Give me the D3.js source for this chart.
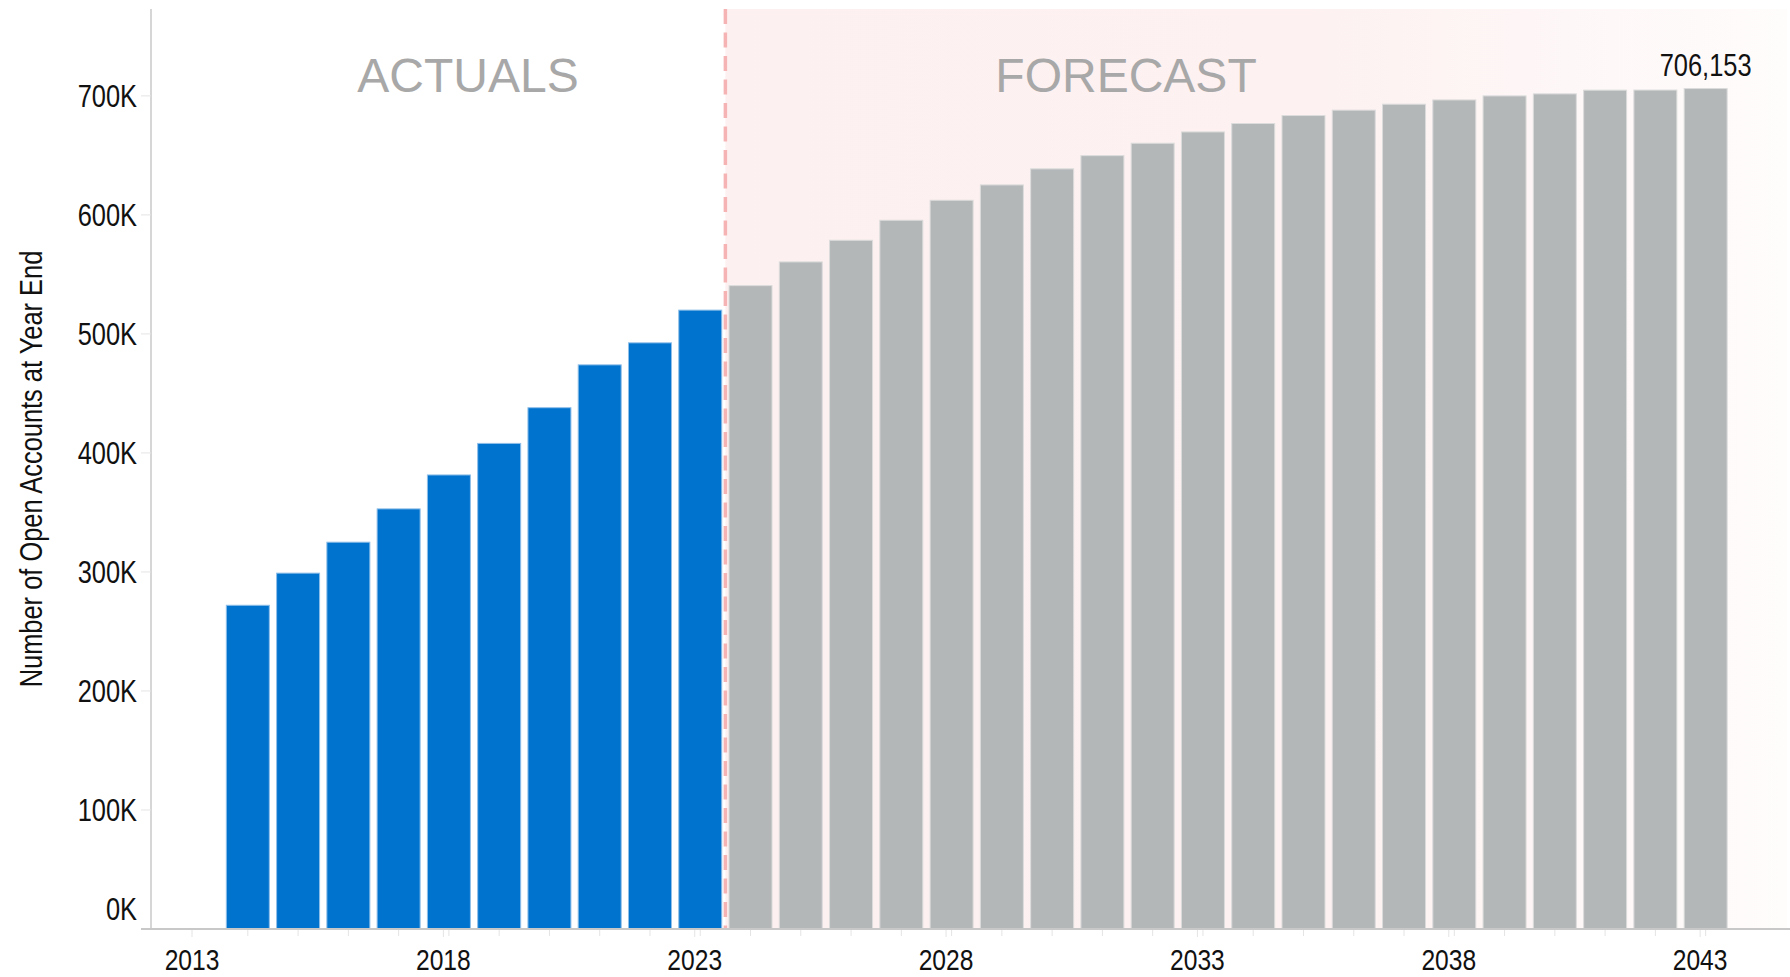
<!DOCTYPE html>
<html>
<head>
<meta charset="utf-8">
<script src="https://cdn.jsdelivr.net/npm/d3@7"></script>
<style>
  body { margin: 0; background: #fff; }
  svg text { font-family: "Liberation Sans", Arial, sans-serif; }
</style>
</head>
<body>
<div id="chart"></div>
<script>
// Chart size
const width = 1790, height = 977

// year of each bar
const years = [2014, 2015, 2016, 2017, 2018, 2019, 2020, 2021, 2022, 2023,
    2024, 2025, 2026, 2027, 2028, 2029, 2030, 2031, 2032, 2033,
    2034, 2035, 2036, 2037, 2038, 2039, 2040, 2041, 2042, 2043]

// open accounts at year end (2014-2023 actuals, 2024+ forecast)
const accounts = [272000, 299000, 325000, 353000, 381500, 408000, 438000, 474000, 492500, 520000,
    540600, 560500, 578700, 595500, 612300, 625200, 638700, 649800, 660200, 669700,
    676800, 683500, 688000, 693000, 696600, 700000, 701700, 704800, 704900, 706153]

const lastActual = 2023
const yTicks = [0, 100000, 200000, 300000, 400000, 500000, 600000, 700000]
const xTicks = [2013, 2018, 2023, 2028, 2033, 2038, 2043]
const sections = ["ACTUALS", "FORECAST"]
const yTitle = "Number of Open Accounts at Year End"

const data = years.map(function (d, i) {
    return { year: d, value: accounts[i], actual: d <= lastActual }
})

// bars sit a little after Jan 1 on the date axis
const barShift = 0.11

const x = d3.scaleLinear()
    .domain([2012.184, 2044.788])
    .range([151, 1790])

const y = d3.scaleLinear()
    .domain([0, 773000])
    .range([929, 9])

const barW = 43
const splitYear = lastActual + 0.5 + barShift

// squeeze text to look like a narrow face (no narrow font installed)
function narrow(sel, k) {
    sel.each(function () {
        const len = this.getComputedTextLength()
        d3.select(this)
            .attr("textLength", len * k)
            .attr("lengthAdjust", "spacingAndGlyphs")
    })
}

const svg = d3.select("#chart").append("svg")
    .attr("width", width)
    .attr("height", height)

// forecast band
const defs = svg.append("defs")
const grad = defs.append("linearGradient").attr("id", "band-grad")
grad.append("stop").attr("offset", "0%").attr("stop-color", "#fdf0f0")
grad.append("stop").attr("offset", "55%").attr("stop-color", "#fdf1f1")
grad.append("stop").attr("offset", "100%").attr("stop-color", "#fffcfc")

svg.append("rect")
    .attr("x", x(splitYear))
    .attr("y", y.range()[1])
    .attr("width", x.range()[1] - x(splitYear) - 3)
    .attr("height", y(0) - y.range()[1])
    .style("fill", "url(#band-grad)")

// section titles
const sectionYears = [2018.49, 2031.58]
svg.selectAll(".section")
    .data(sections)
    .join("text")
    .attr("class", "section")
    .attr("x", function (d, i) { return x(sectionYears[i]) })
    .attr("y", 92)
    .attr("text-anchor", "middle")
    .style("font-size", "48px")
    .style("fill", "#a8a8a8")
    .text(function (d) { return d })

// bars
svg.selectAll(".bar")
    .data(data)
    .join("rect")
    .attr("class", "bar")
    .attr("x", function (d) { return x(d.year + barShift) - barW / 2 })
    .attr("y", function (d) { return y(d.value) })
    .attr("width", barW)
    .attr("height", function (d) { return y(0) - y(d.value) })
    .style("fill", function (d) { return d.actual ? "#0073cf" : "#b4b7b8" })
    .style("stroke", function (d) { return d.actual ? "#8fbfe8" : "#dcdcdc" })
    .style("stroke-width", 1)

// dashed split line
svg.append("line")
    .attr("x1", x(splitYear))
    .attr("x2", x(splitYear))
    .attr("y1", y.range()[1])
    .attr("y2", y(0))
    .style("stroke", "#f5b3b3")
    .style("stroke-width", 3.5)
    .style("stroke-dasharray", "15,8.5")

// y axis
svg.append("line")
    .attr("x1", x.range()[0]).attr("x2", x.range()[0])
    .attr("y1", y.range()[1]).attr("y2", y(0))
    .style("stroke", "#c8c8c8").style("stroke-width", 1.5)

svg.selectAll(".ytick")
    .data(yTicks)
    .join("line")
    .attr("class", "ytick")
    .attr("x1", x.range()[0] - 10).attr("x2", x.range()[0])
    .attr("y1", function (d) { return y(d) }).attr("y2", function (d) { return y(d) })
    .style("stroke", "#e4e4e4").style("stroke-width", 1)

svg.selectAll(".ylabel")
    .data(yTicks)
    .join("text")
    .attr("class", "ylabel")
    .attr("x", 137)
    .attr("y", function (d) { return d === 0 ? y(d) - 9 : y(d) + 11 })
    .attr("text-anchor", "end")
    .style("font-size", "31px")
    .style("fill", "#111")
    .text(function (d) { return d3.format(",")(d / 1000) + "K" })
    .call(narrow, 0.82)

svg.append("text")
    .attr("transform", "translate(42," + 469 + ") rotate(-90)")
    .attr("text-anchor", "middle")
    .style("font-size", "31px")
    .style("fill", "#111")
    .text(yTitle)
    .call(narrow, 0.82)

// x axis
svg.append("line")
    .attr("x1", x.range()[0] - 10).attr("x2", x.range()[1])
    .attr("y1", y(0)).attr("y2", y(0))
    .style("stroke", "#c8c8c8").style("stroke-width", 2)

svg.selectAll(".xminor")
    .data(years)
    .join("line")
    .attr("class", "xminor")
    .attr("x1", function (d) { return x(d + barShift) }).attr("x2", function (d) { return x(d + barShift) })
    .attr("y1", y(0) + 1).attr("y2", y(0) + 7)
    .style("stroke", "#e4e4e4").style("stroke-width", 1)

svg.selectAll(".xmajor")
    .data(xTicks)
    .join("line")
    .attr("class", "xmajor")
    .attr("x1", function (d) { return x(d) }).attr("x2", function (d) { return x(d) })
    .attr("y1", y(0) + 1).attr("y2", y(0) + 8)
    .style("stroke", "#e4e4e4").style("stroke-width", 1)

svg.selectAll(".xlabel")
    .data(xTicks)
    .join("text")
    .attr("class", "xlabel")
    .attr("x", function (d) { return x(d) })
    .attr("y", 970)
    .attr("text-anchor", "middle")
    .style("font-size", "30px")
    .style("fill", "#111")
    .text(function (d) { return d })
    .call(narrow, 0.82)

// value label on the last bar
const last = data[data.length - 1]
svg.append("text")
    .attr("x", x(last.year + barShift))
    .attr("y", y(last.value) - 13)
    .attr("text-anchor", "middle")
    .style("font-size", "31px")
    .style("fill", "#111")
    .text(d3.format(",")(last.value))
    .call(narrow, 0.82)
</script>
</body>
</html>
